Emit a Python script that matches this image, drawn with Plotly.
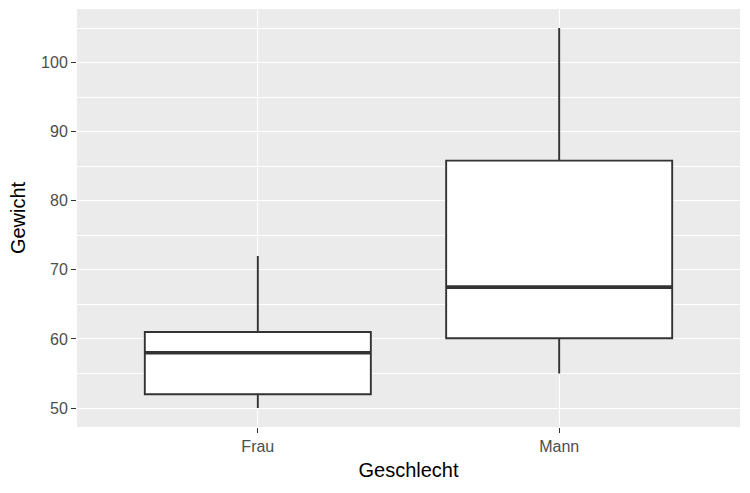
import plotly.graph_objects as go

categories = ["Frau", "Mann"]
lower_whisker = [50, 55]
q1 = [52, 60.1]
median = [58, 67.5]
q3 = [61, 85.8]
upper_whisker = [72, 105]

positions = [1, 2]
box_width = 0.75
line_col = "#333333"

fig = go.Figure()
for i, cat in enumerate(categories):
    fig.add_trace(go.Box(
        x=[positions[i]], q1=[q1[i]], median=[median[i]], q3=[q3[i]],
        lowerfence=[lower_whisker[i]], upperfence=[upper_whisker[i]],
        width=box_width, whiskerwidth=0, boxpoints=False,
        fillcolor="white", line=dict(color=line_col, width=1.9),
        showlegend=False, hoverinfo="skip", name=cat,
    ))
    fig.add_trace(go.Scatter(
        x=[positions[i] - box_width / 2, positions[i] + box_width / 2],
        y=[median[i], median[i]], mode="lines",
        line=dict(color=line_col, width=3.6),
        showlegend=False, hoverinfo="skip",
    ))

font_family = "Liberation Sans, Arial, sans-serif"
fig.update_layout(
    width=750, height=493,
    margin=dict(l=77, r=10, t=9, b=66),
    paper_bgcolor="white", plot_bgcolor="#EBEBEB",
    font=dict(family=font_family),
    xaxis=dict(
        range=[0.4, 2.6], tickvals=positions, ticktext=categories,
        showgrid=True, gridcolor="white", gridwidth=1.4,
        zeroline=False, showline=False,
        ticks="outside", ticklen=5, tickwidth=1.3, tickcolor=line_col,
        tickfont=dict(size=16, color="#4D4D4D"),
        title=dict(text="Geschlecht", font=dict(size=20, color="black"), standoff=8),
    ),
    yaxis=dict(
        range=[47.25, 107.75], tickvals=[50, 60, 70, 80, 90, 100],
        showgrid=True, gridcolor="white", gridwidth=1.4,
        minor=dict(tickvals=[55, 65, 75, 85, 95, 105], showgrid=True,
                   gridcolor="white", gridwidth=0.7, ticks=""),
        zeroline=False, showline=False,
        ticks="outside", ticklen=5, tickwidth=1.3, tickcolor=line_col,
        tickfont=dict(size=16, color="#4D4D4D"),
        title=dict(text="Gewicht", font=dict(size=20, color="black"), standoff=10),
    ),
)

fig.write_html("out.html")
